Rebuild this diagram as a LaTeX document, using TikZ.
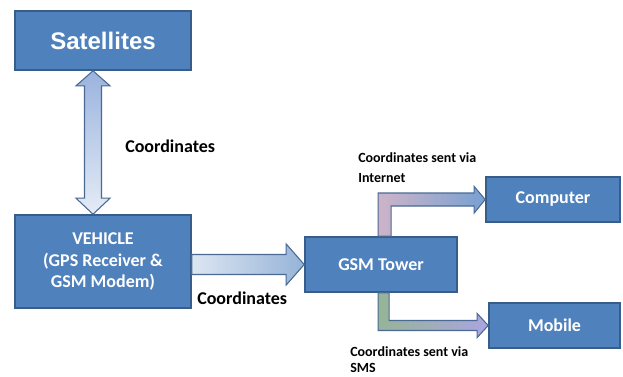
\documentclass[tikz,border=0pt]{standalone}
\usepackage{fontspec}
\setmainfont{Carlito}
\newfontfamily\arialf{Liberation Sans}
\usetikzlibrary{calc}
\definecolor{boxfill}{HTML}{4F81BD}
\definecolor{boxline}{HTML}{385D8A}
\definecolor{arrline}{HTML}{4A6A94}
\tikzset{
  box/.style={draw=boxline, line width=1.2pt, fill=boxfill, text=white, font=\bfseries\fontsize{13.5}{16}\selectfont, align=center, inner sep=0pt},
  lbl/.style={font=\bfseries\fontsize{13.5}{16}\selectfont, text=black, anchor=west, inner sep=0pt},
  smalllbl/.style={font=\bfseries\fontsize{10.5}{14}\selectfont, text=black, anchor=west, align=left, inner sep=0pt},
  arrbody/.style={draw=arrline, line width=0.8pt, line join=miter}
}
\begin{document}
\begin{tikzpicture}[x=0.75pt, y=-0.75pt]
\useasboundingbox (0,0) rectangle (623,376);
% boxes
\node[box, minimum width=132pt, minimum height=44.25pt, font=\arialf\bfseries\fontsize{18}{20}\selectfont] (sat) at (103,40.5) {Satellites};
\node[box, minimum width=132pt, minimum height=69.75pt] (veh) at (103,261.5) {VEHICLE\\(GPS Receiver \&\\GSM Modem)};
\node[box, minimum width=114pt, minimum height=41.25pt] (gsm) at (381,264.5) {GSM Tower};
\node[box, minimum width=100.5pt, minimum height=33.75pt] (comp) at (553,199.5) {Computer};
\node[box, minimum width=98.25pt, minimum height=33.75pt] (mob) at (554.5,325.5) {Mobile};
% double arrow satellites <-> vehicle
\coordinate (ax) at (93,0);
\path[arrbody, top color=blue!10!boxfill!55, bottom color=boxfill!15]
  (ax |- sat.south) -- ++(17,15) -- ++(-8.5,0)
  -- ($(ax |- veh.north)+(8.5,-16)$) -- ++(8.5,0) -- (ax |- veh.north)
  -- ++(-17,-16) -- ++(8.5,0)
  -- ($(ax |- sat.south)+(-8.5,15)$) -- ++(-8.5,0) -- cycle;
\node[lbl] (c1) at (125,146) {Coordinates};
% vehicle -> gsm
\path[arrbody, left color=boxfill!20, right color=boxfill!60]
  ($(veh.east |- gsm.west)+(0,-10)$) -- ($(gsm.west)+(-18,-10)$) -- ++(0,-10.5)
  -- (gsm.west) -- ++(-18,20.5) -- ++(0,-10.5) -- ($(veh.east |- gsm.west)+(0,10)$) -- cycle;
\node[lbl] (c2) at (197,298) {Coordinates};
% gsm -> computer
\path[arrbody, left color={rgb,255:red,205;green,180;blue,200}, right color={rgb,255:red,120;green,160;blue,210}]
  ($(gsm.north west)+(74,0)$) |- ($(comp.west)+(-11,-6.5)$) -- ++(0,-6.5)
  -- (comp.west) -- ++(-11,13.5) -- ++(0,-7) -| ($(gsm.north west)+(87,0)$) -- cycle;
\node[smalllbl] (l1) at (358,167.5) {Coordinates sent via\\[1pt]Internet};
% gsm -> mobile
\path[arrbody, left color={rgb,255:red,150;green,180;blue,150}, right color={rgb,255:red,170;green,165;blue,225}]
  ($(gsm.south west)+(74,0)$) |- ($(mob.west)+(-11,5)$) -- ++(0,7)
  -- (mob.west) -- ++(-11,-12) -- ++(0,7) -| ($(gsm.south west)+(85,0)$) -- cycle;
\node[smalllbl, font=\bfseries\fontsize{10.5}{12}\selectfont] (l2) at (350,360) {Coordinates sent via\\SMS};
\end{tikzpicture}
\end{document}
